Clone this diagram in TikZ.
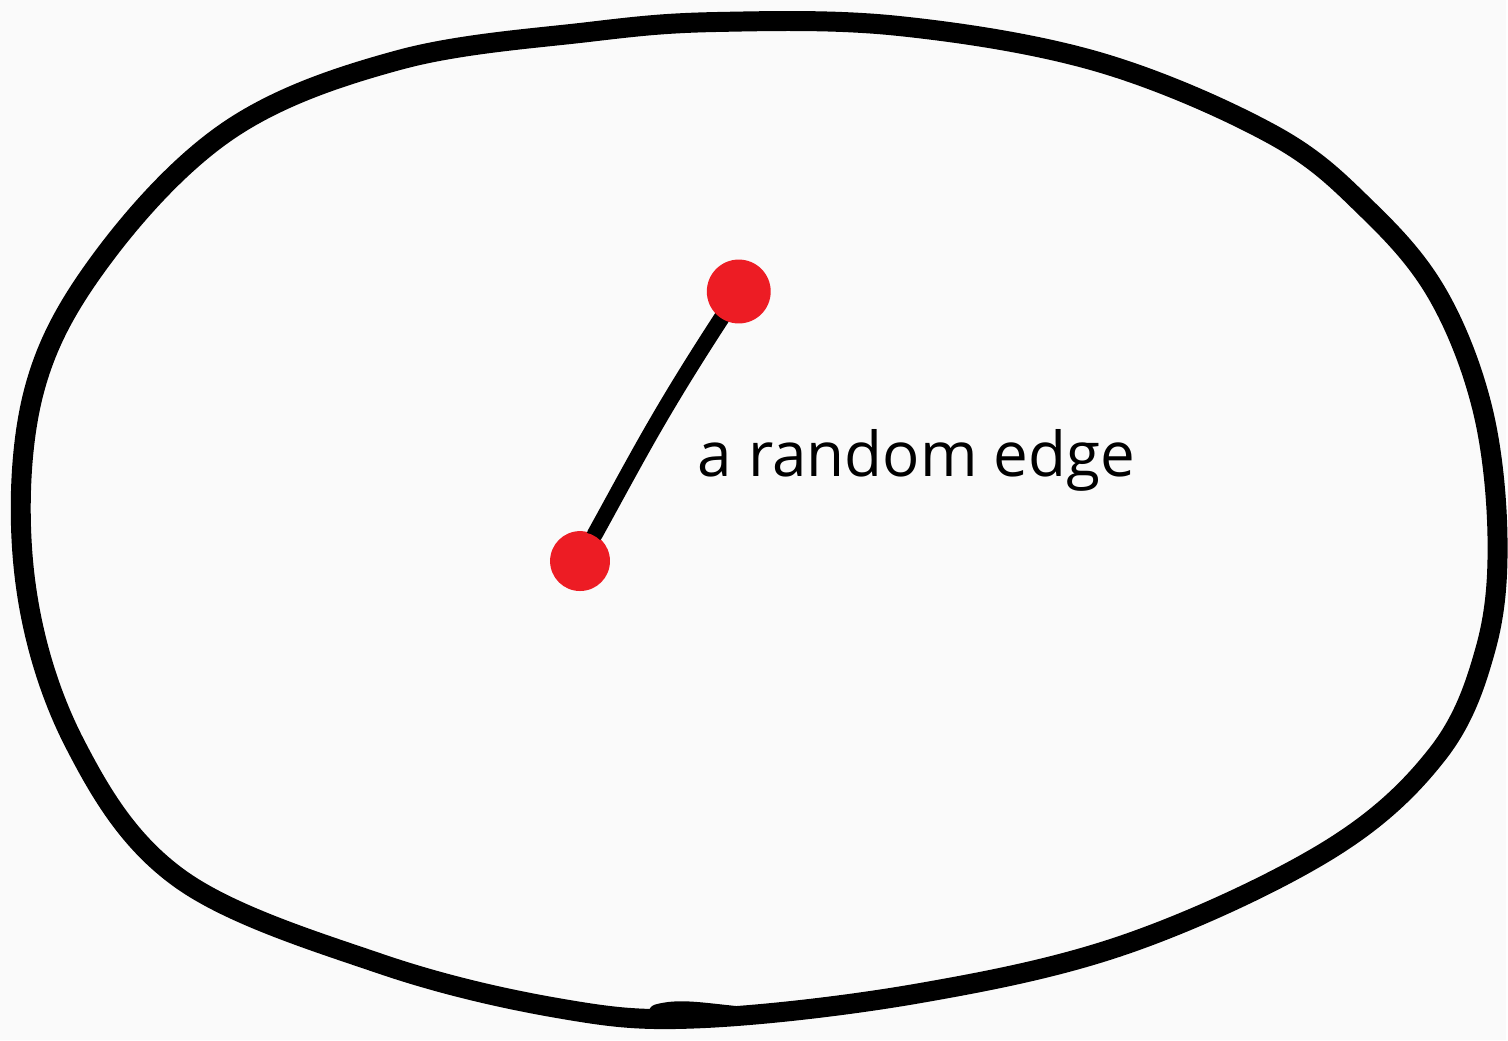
\documentclass[tikz,border=0pt]{standalone}
\usepackage{fontspec}
\setsansfont{Open Sans}
\usepackage{tikz}
\usetikzlibrary{calc}
\usepackage{xcolor}
\definecolor{figbg}{RGB}{250,250,250}
\definecolor{figink}{RGB}{0,0,0}
\definecolor{figdot}{RGB}{237,28,36}

\begin{document}
\begin{tikzpicture}[x=0.5pt,y=-0.5pt,font=\sffamily,line cap=round,line join=round]

% canvas
\fill[figbg] (0,0) rectangle (1508,1042);

\tikzset{
  blob/.style={
    draw=figink,
    line width=10pt
  },
  vertex/.style={
    circle,
    fill=figdot,
    minimum size=30pt,
    inner sep=0pt
  },
  edgeline/.style={
    draw=figink,
    line width=8pt
  },
  label/.style={
    text=figink,
    font=\sffamily\fontsize{31}{34}\selectfont
  }
}

% outer hand-drawn loop
\draw[blob] plot[smooth cycle,tension=0.6] coordinates {
  (720,22) (900,26) (1100,62) (1275,135) (1370,210) (1440,295)
  (1485,410) (1500,540) (1488,650) (1440,755) (1330,852)
  (1130,945) (920,995) (700,1020) (560,1010) (380,965)
  (180,880) (75,745) (25,580) (32,400) (100,262) (230,130)
  (400,60) (590,32)};
% little overlap where the pen closed the loop
\draw[blob,line width=8pt] (658,1014) .. controls (680,1008) and (700,1012) .. (740,1016);

% vertices
\node[vertex] (u) at (581,562) {};
\node[vertex] (v) at (740,292) {};

% the edge
\draw[edgeline] (u) .. controls (640,455) and (660,415) .. (v);
\fill[figdot] (u) circle (14.5pt);
\fill[figdot] (v) circle (16pt);

% label
\node[label,anchor=west] (lbl) at (692,461) {a random edge};

\end{tikzpicture}
\end{document}
